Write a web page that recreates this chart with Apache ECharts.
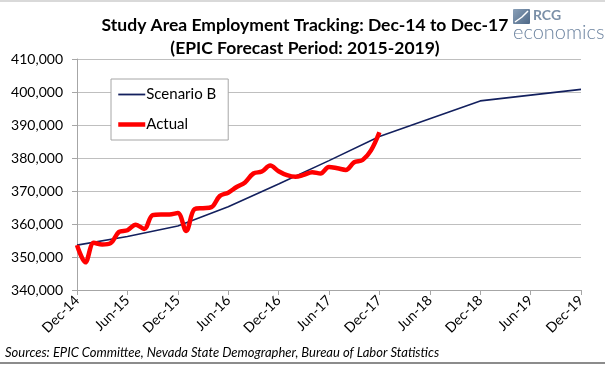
<!DOCTYPE html>
<html><head><meta charset="utf-8">
<script src="https://cdn.jsdelivr.net/npm/echarts@6/dist/echarts.min.js"></script>
<style>html,body{margin:0;padding:0;background:#fff}#c{width:605px;height:367px}</style>
</head><body><div id="c"></div>
<script>
// Monthly categories Dec-14 .. Dec-19
const monthNames = ['Jan','Feb','Mar','Apr','May','Jun','Jul','Aug','Sep','Oct','Nov','Dec'];
const categories = [];
for (let i = 0; i <= 60; i++) {
  const m = (11 + i) % 12, y = 14 + Math.floor((11 + i) / 12);
  categories.push(monthNames[m] + '-' + y);
}
// Scenario B (EPIC forecast) points
const scenarioLabels = ['Dec-14','Jun-15','Dec-15','Jun-16','Dec-16','Jun-17','Dec-17','Dec-18','Dec-19'];
const scenarioValues = [353600, 356200, 359400, 365200, 372100, 379200, 386500, 397300, 400800];
// Actual monthly employment Dec-14 .. Dec-17
const actualValues = [353600, 348400, 354300, 353800, 354200, 357600, 358100, 359800, 358500, 362700,
  362900, 362900, 363300, 357900, 364500, 364800, 365100, 368500, 369500, 371200,
  372600, 375300, 375900, 377700, 376000, 374800, 374300, 374900, 375700, 375300,
  377300, 376900, 376400, 378700, 379400, 382300, 387800];
const yTicks = {min: 340000, max: 410000, interval: 10000};

const chart = echarts.init(document.getElementById('c'), null, {renderer: 'canvas'});
const FONT = 'Lato';
chart.setOption({
  animation: false,
  backgroundColor: '#fff',
  title: {
    text: 'Study Area Employment Tracking: Dec-14 to Dec-17\n(EPIC Forecast Period: 2015-2019)',
    left: 300, textAlign: 'center', top: 9,
    textStyle: {fontFamily: FONT, fontWeight: 'bold', fontSize: 17.5, color: '#000', lineHeight: 23}
  },
  grid: {left: 77, right: 24, top: 59, bottom: 77, containLabel: false},
  legend: {
    orient: 'vertical', left: 111, top: 79, itemWidth: 27, itemHeight: 14, itemGap: 15,
    padding: [8, 12, 8, 5], borderColor: '#a6a6a6', borderWidth: 1, backgroundColor: '#fff',
    itemStyle: {opacity: 0},
    textStyle: {fontFamily: FONT, fontSize: 15, color: '#000', padding: [0,0,0,-4]},
    data: [{name: 'Scenario B', lineStyle: {width: 1.8}}, {name: 'Actual', lineStyle: {width: 4.5}}]
  },
  xAxis: {
    type: 'category', data: categories, boundaryGap: false,
    axisLine: {lineStyle: {color: '#a6a6a6'}},
    axisTick: {interval: 5, length: 5, lineStyle: {color: '#a6a6a6'}},
    axisLabel: {interval: 5, rotate: 45, margin: 8, fontFamily: FONT, fontSize: 14, color: '#000'},
    splitLine: {show: false}
  },
  yAxis: {
    type: 'value', min: yTicks.min, max: yTicks.max, interval: yTicks.interval,
    axisLine: {show: true, lineStyle: {color: '#a6a6a6'}},
    axisTick: {show: true, length: 5, lineStyle: {color: '#a6a6a6'}},
    axisLabel: {margin: 14, fontFamily: FONT, fontSize: 14, color: '#000',
      formatter: v => v.toLocaleString('en-US')},
    splitLine: {lineStyle: {color: '#bfbfbf'}}
  },
  series: [
    {name: 'Scenario B', type: 'line', symbol: 'none', z: 2,
     data: scenarioLabels.map((l, i) => [l, scenarioValues[i]]),
     lineStyle: {color: '#13205e', width: 1.6}, itemStyle: {color: '#13205e'}},
    {name: 'Actual', type: 'line', symbol: 'none', smooth: 0.35, z: 3,
     data: actualValues,
     lineStyle: {color: '#ff0000', width: 4.5}, itemStyle: {color: '#ff0000'}}
  ],
  graphic: [
    {type: 'rect', left: 0, top: 0, shape: {width: 605, height: 2}, style: {fill: '#d9d9d9'}},
    {type: 'rect', left: 0, top: 362, shape: {width: 605, height: 2}, style: {fill: '#8c8c8c'}},
    {type: 'rect', left: 513, top: 9, shape: {width: 17, height: 15, r: 1},
     style: {fill: new echarts.graphic.LinearGradient(0, 0, 1, 1, [{offset: 0, color: '#8aa0b8'}, {offset: 1, color: '#4d6887'}])}},
    {type: 'polyline', shape: {points: [[515, 22], [522, 17], [528, 11]]}, style: {stroke: '#fff', lineWidth: 1.5, fill: null}},
    {type: 'text', left: 533, top: 8, style: {text: 'RCG', font: 'bold 14px Lato', fill: '#7b90a8'}},
    {type: 'text', left: 513, top: 23, style: {text: 'economics', font: '300 20px Lato', fill: '#6d84a0'}},
    {type: 'text', left: 5, top: 346, style: {text: 'Sources: EPIC Committee, Nevada State Demographer, Bureau of Labor Statistics', font: 'italic 13px Lato', fill: '#000'}}
  ]
});
</script></body></html>
